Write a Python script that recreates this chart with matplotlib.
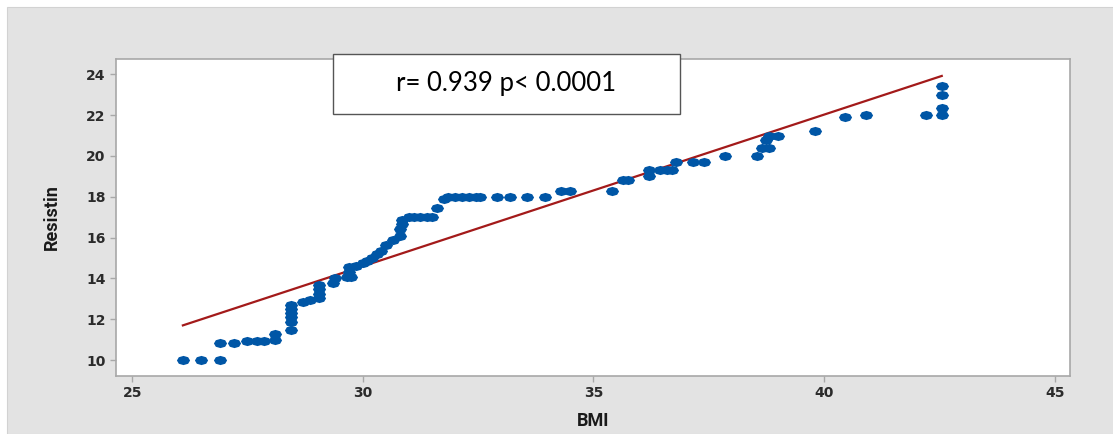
import numpy as np
import matplotlib
matplotlib.use("Agg")
import matplotlib.pyplot as plt
from matplotlib.patches import Rectangle

# BMI / Resistin points
bmi = [26.1, 26.5, 26.9,
       26.9, 27.2, 27.5, 27.7, 27.85, 28.1, 28.1,
       28.45, 28.45, 28.45, 28.45, 28.45, 28.45, 28.7, 28.85,
       29.05, 29.05, 29.05, 29.05, 29.35, 29.4,
       29.65, 29.75, 29.7, 29.7, 29.85, 30.0, 30.1, 30.2, 30.3,
       30.4, 30.5, 30.65, 30.8, 30.8, 30.85, 30.85,
       31.0, 31.1, 31.25, 31.4, 31.5, 31.6, 31.75,
       31.85, 32.0, 32.15, 32.3, 32.45, 32.55, 32.9, 33.2, 33.55, 33.95,
       34.3, 34.5, 35.4, 35.65, 35.75, 36.2, 36.2, 36.45, 36.6, 36.7,
       36.8, 37.15, 37.4, 37.85, 38.55, 38.65, 38.8, 38.75, 38.8, 39.0,
       39.8, 40.45, 40.9, 42.2, 42.55, 42.55, 42.55, 42.55]
resistin = [10.0, 10.0, 10.0,
            10.85, 10.85, 10.95, 10.95, 10.95, 11.0, 11.3,
            11.45, 11.85, 12.1, 12.3, 12.5, 12.7, 12.85, 12.95,
            13.05, 13.25, 13.5, 13.7, 13.8, 14.0,
            14.05, 14.05, 14.3, 14.55, 14.6, 14.75, 14.85, 15.0, 15.2,
            15.35, 15.65, 15.9, 16.1, 16.4, 16.65, 16.85,
            17.0, 17.0, 17.0, 17.0, 17.0, 17.45, 17.9,
            18.0, 18.0, 18.0, 18.0, 18.0, 18.0, 18.0, 18.0, 18.0, 18.0,
            18.3, 18.3, 18.3, 18.8, 18.8, 19.0, 19.3, 19.3, 19.3, 19.3,
            19.7, 19.7, 19.7, 20.0, 20.0, 20.4, 20.4, 20.8, 21.0, 21.0,
            21.2, 21.9, 22.0, 22.0, 22.0, 22.35, 23.0, 23.45]

# fitted line end points
fit_bmi = [26.1, 42.55]
fit_resistin = [11.7, 23.92]

annotation = "r= 0.939 p< 0.0001"

fig = plt.figure(figsize=(11.13, 4.34), dpi=100, facecolor="white")
fig.patches.append(Rectangle((7 / 1113, 0), 1, 1 - 7 / 434, transform=fig.transFigure,
                             facecolor="#e3e3e3", edgecolor="#d2d2d2", lw=0.8, zorder=-10))

ax = fig.add_axes([116 / 1113, 1 - 376 / 434, (1070 - 116) / 1113, (376 - 59) / 434])
ax.set_facecolor("white")

# slightly flattened hexagon-like dot
t = np.linspace(0, 2 * np.pi, 9)
dot = list(zip(np.cos(t), 0.7 * np.sin(t)))

ax.plot(fit_bmi, fit_resistin, color="#a31a1a", lw=1.6, zorder=2)
ax.scatter(bmi, resistin, marker=dot, s=90, color="#0056a6", linewidths=0, zorder=3)

ax.set_xlim(24.65, 45.33)
ax.set_ylim(9.22, 24.75)
ax.set_xticks([25, 30, 35, 40, 45])
ax.set_yticks(range(10, 25, 2))

for s in ax.spines.values():
    s.set_color("#a8a8a8")
    s.set_linewidth(1.2)
ax.tick_params(length=4, width=1, color="#a8a8a8", labelsize=10, labelcolor="#2b2b2b")
for lab in ax.get_xticklabels() + ax.get_yticklabels():
    lab.set_fontweight("bold")

label_font = ["Liberation Sans Narrow", "Roboto", "DejaVu Sans"]
ax.set_xlabel("BMI", family=label_font, fontweight="bold", fontsize=13,
              labelpad=8, color="#1a1a1a")
ax.set_ylabel("Resistin", family=label_font, fontweight="bold", fontsize=13,
              labelpad=18, color="#1a1a1a")

# correlation box, placed in figure pixels
fig.patches.append(Rectangle((333 / 1113, 1 - 114 / 434), (680 - 333) / 1113, 60 / 434,
                             transform=fig.transFigure, facecolor="white",
                             edgecolor="#555555", lw=1.0, zorder=5))
fig.text(506 / 1113, 1 - 84 / 434, annotation, family=["Lato", "DejaVu Sans"],
         fontsize=18.5, ha="center", va="center", color="black", zorder=6)

fig.savefig("out.png", dpi=100, facecolor=fig.get_facecolor())
